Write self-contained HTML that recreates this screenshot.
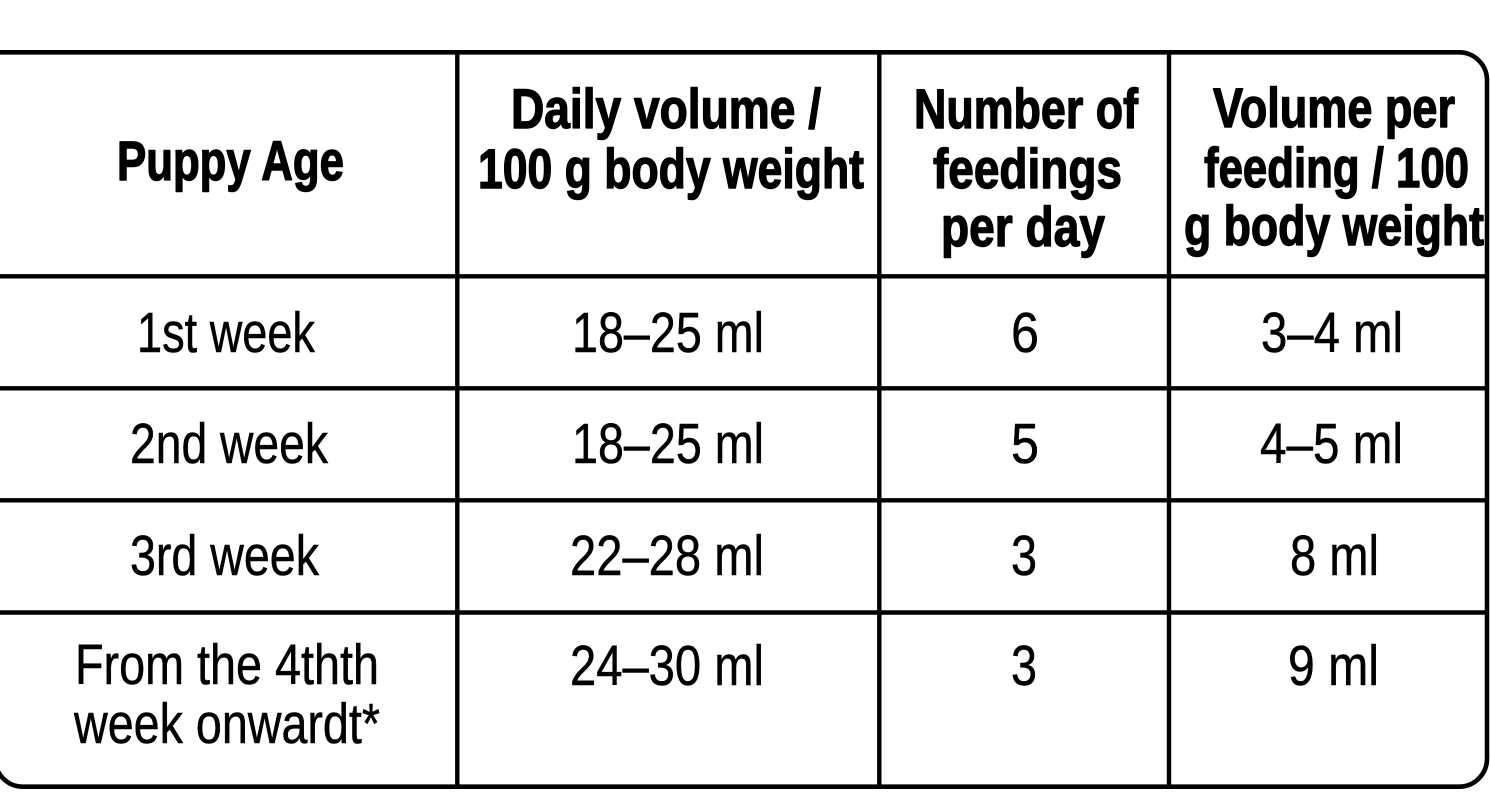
<!DOCTYPE html>
<html>
<head>
<meta charset="utf-8">
<style>
  html, body { margin: 0; padding: 0; background: #ffffff; }
  svg { display: block; }
  .h { font-family: "Liberation Sans Narrow", "Liberation Sans", sans-serif; font-weight: bold; font-size: 56px; fill: #000; stroke: #000; stroke-width: 1.4px; stroke-linejoin: round; }
  .b { font-family: "Liberation Sans Narrow", "Liberation Sans", sans-serif; font-weight: normal; font-size: 57px; fill: #000; stroke: #000; stroke-width: 0.5px; }
</style>
</head>
<body>
<svg width="1490" height="807" viewBox="0 0 1490 807" xmlns="http://www.w3.org/2000/svg">
  <rect x="0" y="0" width="1490" height="807" fill="#ffffff"/>
  <!-- outer border -->
  <path d="M -5 52.3 L 1459 52.3 A 28 28 0 0 1 1487 80.3 L 1487 758.7 A 28 28 0 0 1 1459 786.7 L 23 786.7 A 28 28 0 0 1 -5 758.7 Z"
        fill="none" stroke="#000" stroke-width="4.6"/>
  <!-- horizontal lines -->
  <g stroke="#000" stroke-width="4.4">
    <line x1="-5" y1="276.3" x2="1487" y2="276.3"/>
    <line x1="-5" y1="388.3" x2="1487" y2="388.3"/>
    <line x1="-5" y1="500.3" x2="1487" y2="500.3"/>
    <line x1="-5" y1="612.5" x2="1487" y2="612.5"/>
    <!-- vertical lines -->
    <line x1="457.3" y1="52" x2="457.3" y2="787"/>
    <line x1="879.3" y1="52" x2="879.3" y2="787"/>
    <line x1="1169" y1="52" x2="1169" y2="787"/>
  </g>

  <!-- header -->
  <text class="h" x="117" y="180" font-size="58" textLength="227" lengthAdjust="spacingAndGlyphs">Puppy Age</text>
  <text class="h" x="511" y="128" textLength="310" lengthAdjust="spacingAndGlyphs">Daily volume /</text>
  <text class="h" x="478" y="188" textLength="386" lengthAdjust="spacingAndGlyphs">100 g body weight</text>
  <text class="h" x="914" y="128" textLength="224" lengthAdjust="spacingAndGlyphs">Number of</text>
  <text class="h" x="933" y="188" textLength="189" lengthAdjust="spacingAndGlyphs">feedings</text>
  <text class="h" x="941" y="246" textLength="164" lengthAdjust="spacingAndGlyphs">per day</text>
  <text class="h" x="1213" y="127" textLength="242" lengthAdjust="spacingAndGlyphs">Volume per</text>
  <text class="h" x="1204" y="187" textLength="265" lengthAdjust="spacingAndGlyphs">feeding / 100</text>
  <text class="h" x="1184" y="245" textLength="300" lengthAdjust="spacingAndGlyphs">g body weight</text>

  <!-- row 1 -->
  <text class="b" x="137" y="352" textLength="178" lengthAdjust="spacingAndGlyphs">1st week</text>
  <text class="b" x="572" y="352" textLength="192" lengthAdjust="spacingAndGlyphs">18–25 ml</text>
  <text class="b" x="1011" y="352" textLength="28" lengthAdjust="spacingAndGlyphs">6</text>
  <text class="b" x="1261" y="352" textLength="142" lengthAdjust="spacingAndGlyphs">3–4 ml</text>

  <!-- row 2 -->
  <text class="b" x="130" y="463" textLength="198" lengthAdjust="spacingAndGlyphs">2nd week</text>
  <text class="b" x="572" y="463" textLength="192" lengthAdjust="spacingAndGlyphs">18–25 ml</text>
  <text class="b" x="1011" y="463" textLength="28" lengthAdjust="spacingAndGlyphs">5</text>
  <text class="b" x="1260" y="463" textLength="143" lengthAdjust="spacingAndGlyphs">4–5 ml</text>

  <!-- row 3 -->
  <text class="b" x="130" y="575" textLength="189" lengthAdjust="spacingAndGlyphs">3rd week</text>
  <text class="b" x="570" y="575" textLength="194" lengthAdjust="spacingAndGlyphs">22–28 ml</text>
  <text class="b" x="1011" y="575" textLength="26" lengthAdjust="spacingAndGlyphs">3</text>
  <text class="b" x="1290" y="575" textLength="89" lengthAdjust="spacingAndGlyphs">8 ml</text>

  <!-- row 4 -->
  <text class="b" x="75" y="684" textLength="304" lengthAdjust="spacingAndGlyphs">From the 4thth</text>
  <text class="b" x="74" y="743" textLength="306" lengthAdjust="spacingAndGlyphs">week onwardt*</text>
  <text class="b" x="570" y="685" textLength="194" lengthAdjust="spacingAndGlyphs">24–30 ml</text>
  <text class="b" x="1011" y="685" textLength="26" lengthAdjust="spacingAndGlyphs">3</text>
  <text class="b" x="1288" y="685" textLength="91" lengthAdjust="spacingAndGlyphs">9 ml</text>
</svg>
</body>
</html>
